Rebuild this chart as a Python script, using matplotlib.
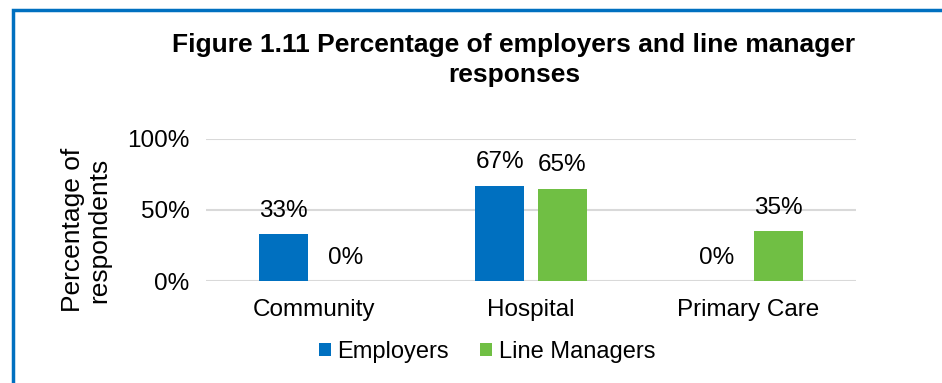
import matplotlib.pyplot as plt
import matplotlib.patches as mpatches
import numpy as np

plt.rcParams['font.family'] = ['Liberation Sans', 'DejaVu Sans']

categories = ["Community", "Hospital", "Primary Care"]
employers = [33, 67, 0]
line_managers = [0, 65, 35]

blue = "#0070c0"
green = "#70bf44"

fig = plt.figure(figsize=(9.42, 3.83), dpi=100)
ax = fig.add_axes([206 / 942, 1 - 281 / 383, 650 / 942, 142 / 383])

x = np.arange(len(categories))
w = 0.226
off = 0.144
b1 = ax.bar(x - off, employers, w, color=blue, label="Employers", zorder=3)
b2 = ax.bar(x + off, line_managers, w, color=green, label="Line Managers", zorder=3)

for bars, vals in ((b1, employers), (b2, line_managers)):
    for rect, v in zip(bars, vals):
        ax.text(rect.get_x() + rect.get_width() / 2, v + 16.5, f"{v}%",
                ha="center", va="center", fontsize=17.5, zorder=4)

ax.set_xlim(-0.5, 2.5)
ax.set_ylim(0, 100)
ax.set_yticks([0, 50, 100])
ax.set_yticklabels(["0%", "50%", "100%"], fontsize=17.5)
ax.set_xticks(x)
ax.set_xticklabels(categories, fontsize=17.5)
ax.tick_params(length=0)
ax.tick_params(axis="x", pad=13)
ax.tick_params(axis="y", pad=12)
ax.grid(axis="y", color="#d9d9d9", linewidth=1.5, zorder=0)
for s in ax.spines.values():
    s.set_visible(False)

# axis title sits lower than the plot centre
fig.text(86 / 942, 1 - 230 / 383, "Percentage of\nrespondents", rotation=90,
         ha="center", va="center", fontsize=19, linespacing=1.15)

fig.text(514 / 942, 1 - 60 / 383, "Figure 1.11 Percentage of employers and line manager\nresponses",
         ha="center", va="center", fontsize=19, fontweight="bold", linespacing=1.3)

ax.legend(handles=[b1, b2], loc="center", bbox_to_anchor=(487 / 942, 1 - 352 / 383),
          bbox_transform=fig.transFigure, ncol=2, frameon=False, fontsize=17,
          handlelength=0.5, handleheight=0.5, handletextpad=0.3, columnspacing=1.3)

# frame around the chart area
fig.patches.append(mpatches.Rectangle((13 / 942, -0.1), 1.2, 1 - 10 / 383 + 0.1,
                                      transform=fig.transFigure, fill=False,
                                      edgecolor=blue, linewidth=2.5))

fig.savefig("out.png", dpi=100)
